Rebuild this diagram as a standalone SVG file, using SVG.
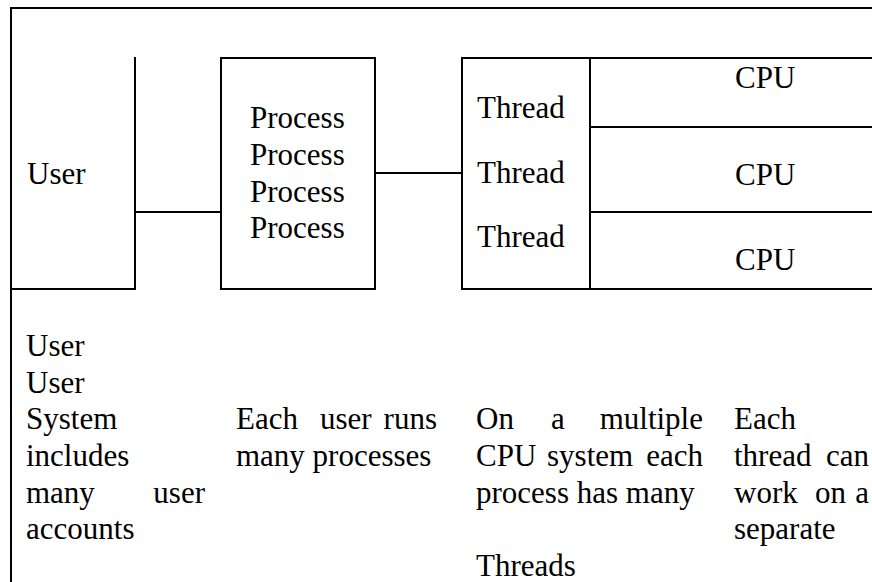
<svg xmlns="http://www.w3.org/2000/svg" width="872" height="582" viewBox="0 0 872 582">
<style>
  .ln{stroke:#000;stroke-width:2;fill:none;stroke-linecap:square}
  .t{font-size:31px;fill:#000}
  .e{text-anchor:end}
</style>
<rect width="872" height="582" fill="#fff"/>
<g id="frame">
  <path class="ln" d="M11,583 V8 H873"/>
  <path class="ln" d="M11,289 H135"/>
</g>
<g class="t" font-family="'Liberation Serif', 'DejaVu Serif', serif">
<g id="user">
  <path class="ln" d="M135,58 V289"/>
  <text x="27" y="184">User</text>
</g>
<g id="process">
  <rect class="ln" x="221" y="58" width="154" height="231"/>
  <text x="250" y="128">Process</text>
  <text x="250" y="165">Process</text>
  <text x="250" y="202">Process</text>
  <text x="250" y="238">Process</text>
</g>
<g id="thread">
  <rect class="ln" x="462" y="58" width="128" height="231"/>
  <text x="477" y="118">Thread</text>
  <text x="477" y="183">Thread</text>
  <text x="477" y="247">Thread</text>
</g>
<g id="cpu1">
  <path class="ln" d="M590,58 H873 M590,127 H873"/>
  <text x="735" y="88">CPU</text>
</g>
<g id="cpu2">
  <path class="ln" d="M590,212 H873"/>
  <text x="735" y="185">CPU</text>
</g>
<g id="cpu3">
  <path class="ln" d="M590,289 H873"/>
  <text x="735" y="270">CPU</text>
</g>
<g id="desc-user">
  <text x="26" y="356">User</text>
  <text x="26" y="393">User</text>
  <text x="26" y="429">System</text>
  <text x="26" y="466">includes</text>
  <text x="26" y="503">many</text>
  <text x="205" y="503" class="e">user</text>
  <text x="26" y="539">accounts</text>
</g>
<g id="desc-process">
  <text x="236" y="429">Each</text>
  <text x="320" y="429">user</text>
  <text x="437" y="429" class="e">runs</text>
  <text x="236" y="466">many processes</text>
</g>
<g id="desc-thread">
  <text x="476" y="429">On</text>
  <text x="551" y="429">a</text>
  <text x="703" y="429" class="e">multiple</text>
  <text x="476" y="466">CPU</text>
  <text x="547" y="466">system</text>
  <text x="703" y="466" class="e">each</text>
  <text x="476" y="503">process has many</text>
  <text x="476" y="576">Threads</text>
</g>
<g id="desc-cpu">
  <text x="734" y="429">Each</text>
  <text x="734" y="466">thread</text>
  <text x="869" y="466" class="e">can</text>
  <text x="734" y="503">work</text>
  <text x="815" y="503">on</text>
  <text x="869" y="503" class="e">a</text>
  <text x="734" y="539">separate</text>
</g>
</g>
<g id="connectors">
  <path class="ln" d="M135,212 H221"/>
  <path class="ln" d="M375,173 H462"/>
</g>
</svg>
